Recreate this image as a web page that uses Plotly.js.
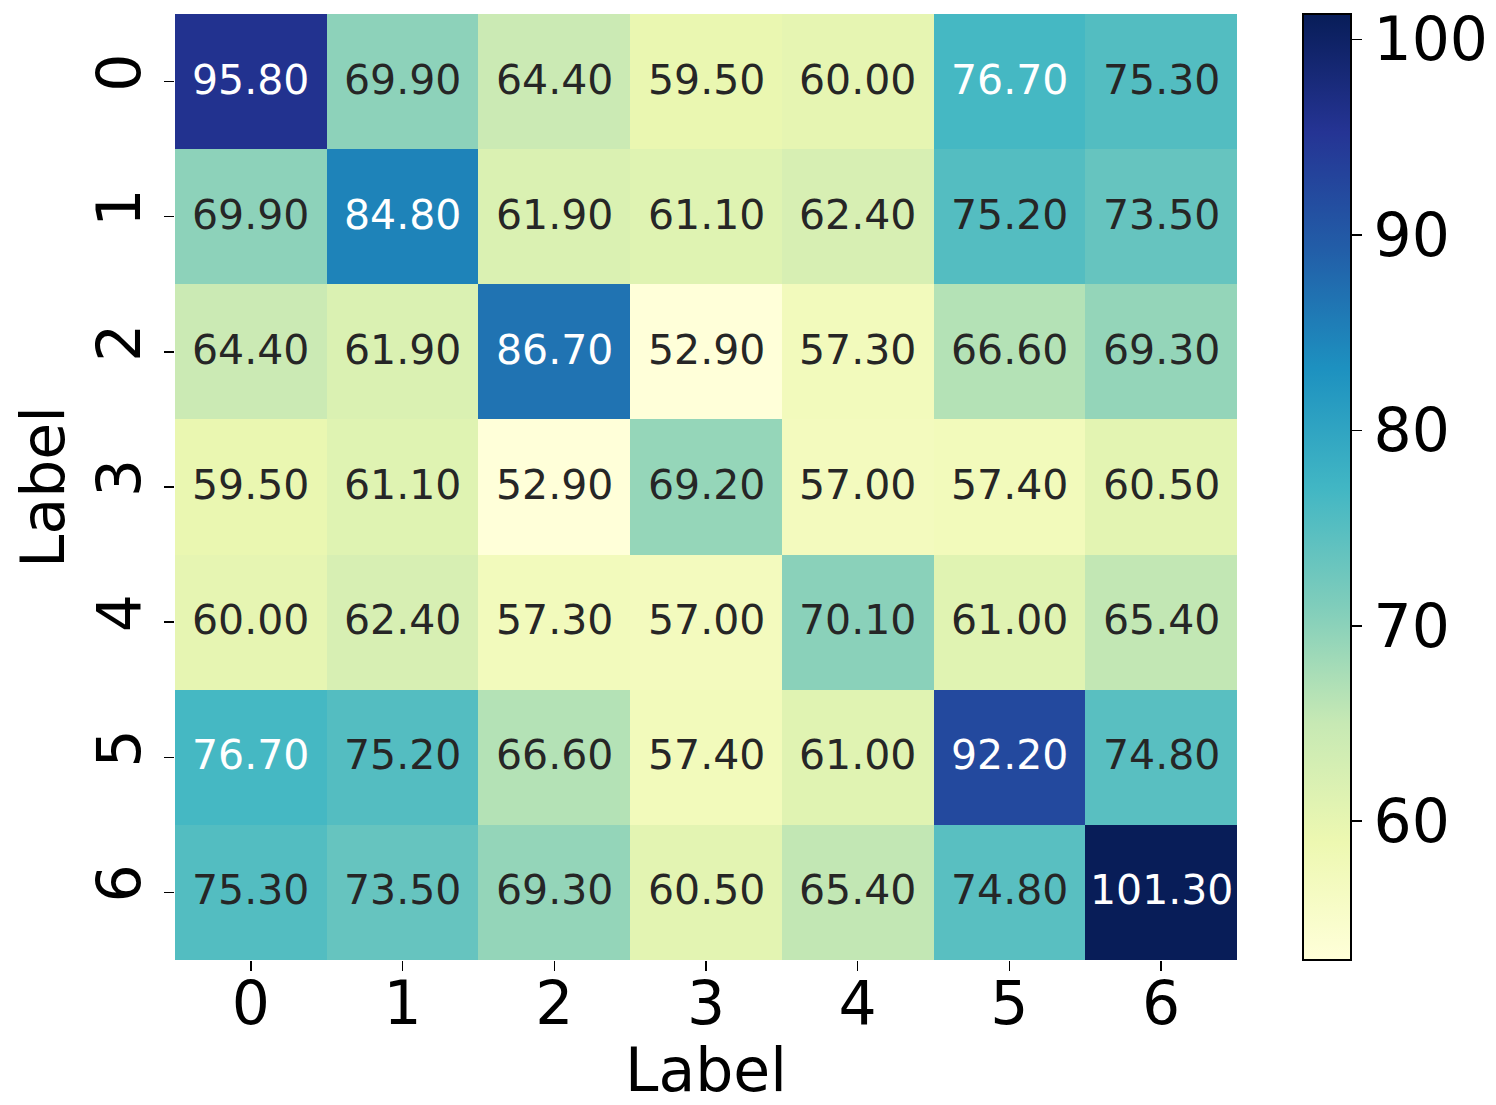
<!DOCTYPE html>
<html>
<head>
<meta charset="utf-8">
<script src="https://cdn.plot.ly/plotly-3.0.1.min.js"></script>
<style>html,body{margin:0;padding:0;background:#fff;}#chart{width:1496px;height:1105px;}</style>
</head>
<body>
<div id="chart"></div>
<script>
const xLabels = ['0','1','2','3','4','5','6'];
const yLabels = ['0','1','2','3','4','5','6'];
const row0 = [95.8, 69.9, 64.4, 59.5, 60.0, 76.7, 75.3];
const row1 = [69.9, 84.8, 61.9, 61.1, 62.4, 75.2, 73.5];
const row2 = [64.4, 61.9, 86.7, 52.9, 57.3, 66.6, 69.3];
const row3 = [59.5, 61.1, 52.9, 69.2, 57.0, 57.4, 60.5];
const row4 = [60.0, 62.4, 57.3, 57.0, 70.1, 61.0, 65.4];
const row5 = [76.7, 75.2, 66.6, 57.4, 61.0, 92.2, 74.8];
const row6 = [75.3, 73.5, 69.3, 60.5, 65.4, 74.8, 101.3];
const zValues = [row0, row1, row2, row3, row4, row5, row6];
const cbTicks = [60, 70, 80, 90, 100];

const ylgnbu = ['#ffffd9','#edf8b1','#c7e9b4','#7fcdbb','#41b6c4','#1d91c0','#225ea8','#253494','#081d58'];
const colorscale = ylgnbu.map((c, i) => [i / (ylgnbu.length - 1), c]);

const flat = zValues.flat();
const zmin = Math.min(...flat), zmax = Math.max(...flat);

function hexToRgb(h){ return [parseInt(h.slice(1,3),16), parseInt(h.slice(3,5),16), parseInt(h.slice(5,7),16)]; }
function colorAt(v){
  const t = (v - zmin) / (zmax - zmin);
  const n = ylgnbu.length - 1;
  const p = Math.min(Math.max(t, 0), 1) * n;
  const i = Math.min(Math.floor(p), n - 1);
  const f = p - i;
  const a = hexToRgb(ylgnbu[i]), b = hexToRgb(ylgnbu[i+1]);
  return a.map((c, k) => c + (b[k] - c) * f);
}
function luminance(rgb){
  const c = rgb.map(v => { v /= 255; return v <= 0.03928 ? v / 12.92 : Math.pow((v + 0.055) / 1.055, 2.4); });
  return 0.2126 * c[0] + 0.7152 * c[1] + 0.0722 * c[2];
}

const annotations = [];
zValues.forEach((row, r) => {
  row.forEach((v, c) => {
    const lum = luminance(colorAt(v));
    annotations.push({
      x: xLabels[c], y: yLabels[r], xref: 'x', yref: 'y',
      text: v.toFixed(2), showarrow: false, yshift: 2,
      font: {family: 'DejaVu Sans', size: 41, color: lum > 0.408 ? '#262626' : '#ffffff'}
    });
  });
});

const trace = {
  type: 'heatmap',
  x: xLabels, y: yLabels, z: zValues,
  zmin: zmin, zmax: zmax,
  colorscale: colorscale,
  xgap: 0, ygap: 0,
  hoverinfo: 'skip',
  colorbar: {
    x: 1.0621, xanchor: 'left', xpad: 0,
    y: 0.5, yanchor: 'middle', ypad: 0, len: 1, lenmode: 'fraction',
    thickness: 48, thicknessmode: 'pixels',
    outlinewidth: 2, outlinecolor: '#000',
    tickvals: cbTicks, ticks: 'outside', ticklen: 10, tickwidth: 1.5, tickcolor: '#000',
    tickfont: {family: 'DejaVu Sans', size: 60, color: '#000'}
  }
};

const layout = {
  width: 1496, height: 1105,
  margin: {l: 175, r: 259, t: 14, b: 145, pad: 0, autoexpand: false},
  paper_bgcolor: '#fff', plot_bgcolor: '#fff',
  font: {family: 'DejaVu Sans', color: '#000'},
  xaxis: {
    type: 'category', showgrid: false, zeroline: false, showline: false,
    ticks: 'outside', ticklen: 10, tickwidth: 1.5, tickcolor: '#000',
    ticklabelstandoff: -19,
    tickfont: {family: 'DejaVu Sans', size: 60, color: '#000'},
    title: {text: 'Label', font: {family: 'DejaVu Sans', size: 60, color: '#000'}, standoff: 0},
    automargin: false
  },
  yaxis: {
    type: 'category', autorange: 'reversed', showgrid: false, zeroline: false, showline: false,
    ticks: 'outside', ticklen: 10, tickwidth: 1.5, tickcolor: '#000', tickangle: -90,
    tickfont: {family: 'DejaVu Sans', size: 60, color: '#000'},
    title: {text: 'Label', font: {family: 'DejaVu Sans', size: 60, color: '#000'}, standoff: 0},
    automargin: false
  },
  annotations: annotations
};

Plotly.newPlot('chart', [trace], layout, {displayModeBar: false, staticPlot: true});
</script>
</body>
</html>
